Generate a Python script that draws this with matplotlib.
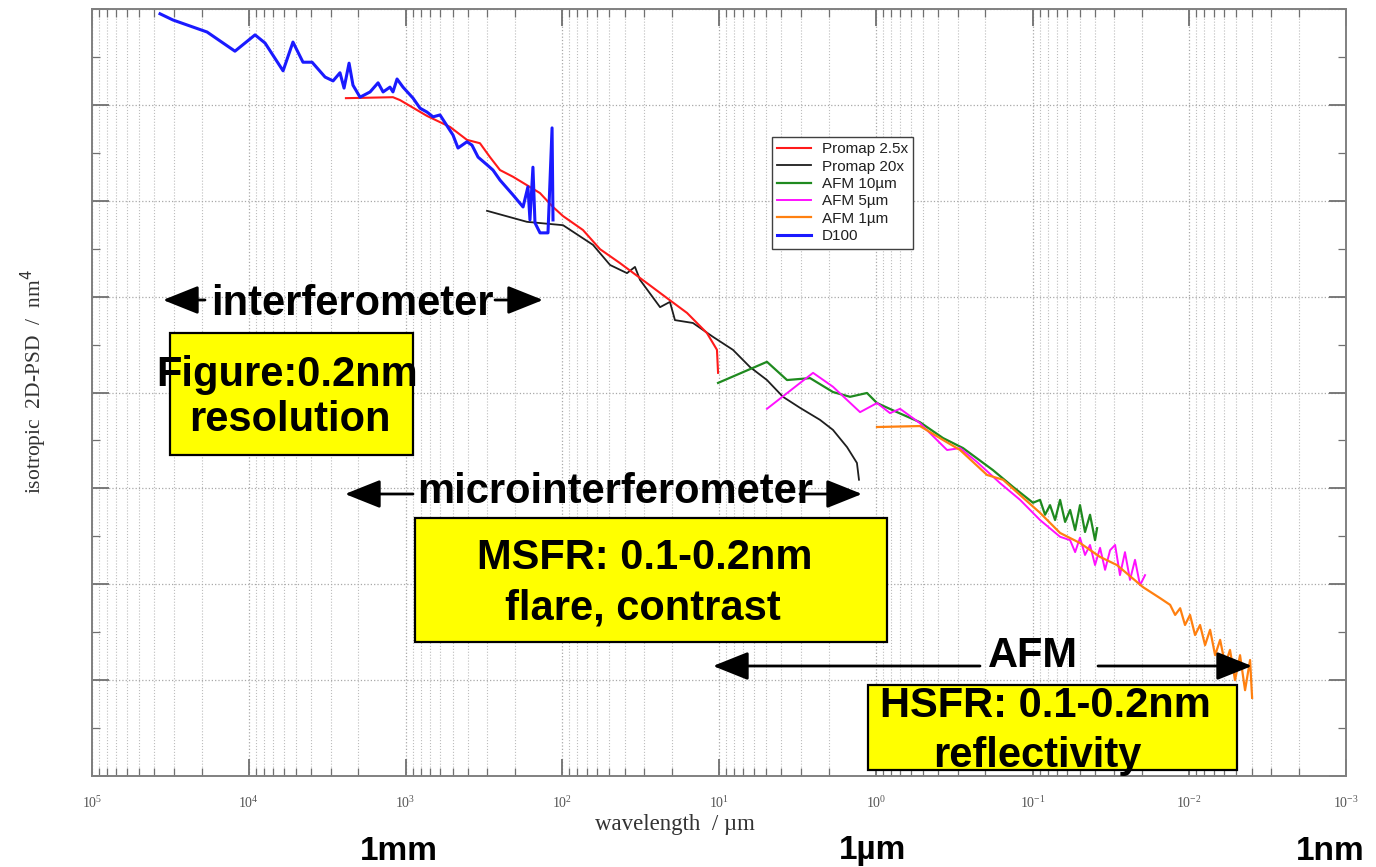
import numpy as np
import matplotlib
matplotlib.use('Agg')
import matplotlib.pyplot as plt
from matplotlib.patches import Rectangle, FancyArrowPatch
from matplotlib.ticker import FixedLocator, NullFormatter, LogFormatterSciNotation

plt.rcParams['axes.unicode_minus'] = False

# values, as log10(wavelength / um) and log10(PSD / nm^4)
promap25_lam = [3.380, 3.080, 3.035, 2.863, 2.716, 2.608, 2.525, 2.461, 2.397, 2.314,
                2.142, 2.059, 1.995, 1.868, 1.759, 1.632, 1.459, 1.332, 1.204, 1.077,
                1.013, 1.006]
promap25_psd = [10.14, 10.16, 10.10, 9.77, 9.54, 9.27, 9.20, 8.91, 8.64, 8.50,
                8.16, 7.87, 7.68, 7.39, 6.99, 6.70, 6.28, 5.97, 5.66, 5.24,
                4.89, 4.41]

promap20_lam = [2.480, 2.225, 1.995, 1.804, 1.695, 1.587, 1.536, 1.504, 1.376, 1.313,
                1.281, 1.166, 1.038, 0.911, 0.802, 0.694, 0.592, 0.483, 0.356, 0.273,
                0.183, 0.120, 0.107]
promap20_psd = [7.79, 7.56, 7.49, 7.08, 6.66, 6.49, 6.62, 6.35, 5.78, 5.89,
                5.51, 5.45, 5.16, 4.89, 4.53, 4.26, 3.91, 3.68, 3.43, 3.22,
                2.86, 2.53, 2.18]

afm10_lam = [1.006, 0.694, 0.566, 0.419, 0.273, 0.164, 0.056, -0.008, -0.136, -0.282,
             -0.429, -0.557, -0.748, -0.876, -1.003, -1.048, -1.080, -1.112, -1.144, -1.176,
             -1.208, -1.240, -1.272, -1.303, -1.335, -1.367, -1.399, -1.412]
afm10_psd = [4.20, 4.64, 4.26, 4.30, 4.01, 3.91, 3.99, 3.78, 3.59, 3.38,
             3.05, 2.84, 2.38, 2.03, 1.70, 1.76, 1.45, 1.65, 1.34, 1.76,
             1.30, 1.55, 1.13, 1.65, 1.09, 1.45, 0.92, 1.17]

afm5_lam = [0.694, 0.400, 0.273, 0.100, -0.008, -0.091, -0.155, -0.282, -0.455, -0.538,
            -0.646, -0.793, -0.921, -1.048, -1.176, -1.240, -1.272, -1.303, -1.335, -1.367,
            -1.399, -1.431, -1.463, -1.495, -1.527, -1.558, -1.590, -1.622, -1.654, -1.686,
            -1.718]
afm5_psd = [3.66, 4.41, 4.12, 3.59, 3.78, 3.57, 3.66, 3.36, 2.80, 2.84,
            2.55, 2.11, 1.76, 1.34, 0.99, 0.92, 0.67, 0.97, 0.61, 0.82,
            0.40, 0.76, 0.30, 0.71, 0.82, 0.19, 0.67, 0.09, 0.51, -0.02,
            0.19]

afm1_lam = [-0.008, -0.282, -0.429, -0.538, -0.710, -0.812, -0.921, -1.048, -1.176, -1.303,
            -1.431, -1.539, -1.705, -1.814, -1.878, -1.910, -1.942, -1.973, -2.005, -2.037,
            -2.069, -2.101, -2.133, -2.165, -2.197, -2.229, -2.260, -2.292, -2.324, -2.356,
            -2.388, -2.401]
afm1_psd = [3.28, 3.30, 3.01, 2.80, 2.28, 2.18, 1.86, 1.49, 1.07, 0.86,
            0.57, 0.40, -0.06, -0.29, -0.43, -0.64, -0.50, -0.85, -0.64, -1.06,
            -0.85, -1.27, -0.95, -1.48, -1.16, -1.68, -1.37, -2.00, -1.48, -2.21,
            -1.58, -2.37]

d100_lam = [4.566, 4.483, 4.266, 4.088, 3.960, 3.896, 3.781, 3.718, 3.654, 3.596,
            3.513, 3.462, 3.418, 3.392, 3.360, 3.335, 3.290, 3.226, 3.175, 3.143,
            3.099, 3.080, 3.054, 3.016, 2.952, 2.907, 2.863, 2.824, 2.780, 2.697,
            2.665, 2.608, 2.576, 2.537, 2.480, 2.442, 2.397, 2.314, 2.250, 2.219,
            2.206, 2.187, 2.174, 2.142, 2.091, 2.065, 2.059]
d100_psd = [11.90, 11.77, 11.52, 11.12, 11.46, 11.29, 10.71, 11.31, 10.89, 10.89,
            10.58, 10.50, 10.67, 10.35, 10.87, 10.41, 10.16, 10.27, 10.46, 10.27,
            10.37, 10.27, 10.54, 10.37, 10.14, 9.93, 9.85, 9.75, 9.79, 9.37,
            9.10, 9.23, 9.16, 8.91, 8.75, 8.64, 8.43, 8.12, 7.87, 8.29,
            7.60, 8.70, 7.54, 7.33, 7.33, 9.52, 7.60]

series = [
    ('Promap 20x', promap20_lam, promap20_psd, '#1e1e1e', 1.3),
    ('Promap 2.5x', promap25_lam, promap25_psd, '#ff1a1a', 1.5),
    ('AFM 10\u00b5m', afm10_lam, afm10_psd, '#1f8a1f', 1.6),
    ('AFM 5\u00b5m', afm5_lam, afm5_psd, '#ff10ff', 1.4),
    ('AFM 1\u00b5m', afm1_lam, afm1_psd, '#ff8010', 1.6),
    ('D100', d100_lam, d100_psd, '#1a1aff', 2.2),
]
legend_order = ['Promap 2.5x', 'Promap 20x', 'AFM 10\u00b5m', 'AFM 5\u00b5m', 'AFM 1\u00b5m', 'D100']

W, H = 1376, 867


def fxy(x, y):
    # pixel position from the top-left corner -> figure fraction
    return (x / W, 1 - y / H)


fig = plt.figure(figsize=(W / 100, H / 100), dpi=100)
ax = fig.add_axes([92 / W, 1 - 776 / H, 1254 / W, 767 / H])

lines = {}
for name, lam, psd, color, lw in series:
    ln, = ax.plot(10 ** np.array(lam), 10 ** np.array(psd), color=color, lw=lw, label=name)
    lines[name] = ln

ax.set_xscale('log')
ax.set_yscale('log')
ax.set_xlim(1e5, 1e-3)
ax.set_ylim(1e-4, 1e12)

decades = range(-3, 6)
ax.xaxis.set_major_locator(FixedLocator([10.0 ** k for k in decades]))
ax.xaxis.set_minor_locator(FixedLocator([s * 10.0 ** k for k in range(-3, 5) for s in range(2, 10)]))
ax.xaxis.set_major_formatter(LogFormatterSciNotation())
ax.xaxis.set_minor_formatter(NullFormatter())
ax.yaxis.set_major_locator(FixedLocator([10.0 ** k for k in range(-4, 13, 2)]))
ax.yaxis.set_minor_locator(FixedLocator([10.0 ** k for k in range(-3, 12, 2)]))
ax.yaxis.set_major_formatter(NullFormatter())
ax.yaxis.set_minor_formatter(NullFormatter())

ax.tick_params(which='both', direction='in', top=True, right=True, colors='#707070')
ax.tick_params(which='major', length=12, width=1.3)
ax.tick_params(which='minor', length=6, width=0.9)
ax.tick_params(axis='x', which='major', pad=14, labelsize=10, labelcolor='#555555',
               labelfontfamily='Liberation Serif')
for sp in ax.spines.values():
    sp.set_color('#808080')
    sp.set_linewidth(1.4)

ax.grid(True, which='major', axis='both', ls=':', color='#a8a8a8', lw=0.9)
ax.grid(True, which='minor', axis='x', ls=':', color='#bdbdbd', lw=0.8)

ax.set_xlabel('wavelength  / \u00b5m', family='Liberation Serif', fontsize=16.5, color='#333333')
ax.xaxis.set_label_coords(0.465, -0.049)
ax.set_ylabel('isotropic  2D-PSD  /  nm$^4$', family='Liberation Serif', fontsize=15.5,
              color='#333333')
ax.yaxis.set_label_coords(-0.034, 0.514)

leg = ax.legend([lines[n] for n in legend_order], legend_order,
                loc='upper left', bbox_to_anchor=fxy(772, 137), bbox_transform=fig.transFigure,
                fontsize=11, frameon=True, fancybox=False, edgecolor='#404040',
                framealpha=1, handlelength=2.2, handletextpad=0.7, labelspacing=0.22,
                borderpad=0.35, borderaxespad=0)
leg.get_frame().set_linewidth(1.0)
for t in leg.get_texts():
    t.set_family('Liberation Sans')
    t.set_color('#202020')


def label(x, y, s, size=30):
    fig.text(*fxy(x, y), s, ha='center', va='center', fontsize=size,
             fontweight='bold', family='Liberation Sans', color='black', zorder=12)


def arrow(x0, x1, y):
    fig.add_artist(FancyArrowPatch(fxy(x0, y), fxy(x1, y), transform=fig.transFigure,
                                   arrowstyle='-|>,head_length=1.0,head_width=0.4',
                                   mutation_scale=22, lw=2, color='black',
                                   shrinkA=0, shrinkB=0, zorder=11))


def box(x0, y0, x1, y1):
    fig.add_artist(Rectangle(fxy(x0, y1), (x1 - x0) / W, (y1 - y0) / H,
                             transform=fig.transFigure, fc='#ffff00', ec='black',
                             lw=1.6, zorder=10))


# interferometer
arrow(205, 163, 300)
arrow(495, 543, 300)
label(352, 304, 'interferometer')
box(170, 333, 413, 455)
label(287, 375, 'Figure:0.2nm')
label(290, 420, 'resolution')

# microinterferometer
arrow(413, 345, 494)
arrow(800, 862, 494)
label(615, 492, 'microinterferometer')
box(415, 518, 887, 642)
label(645, 558, 'MSFR: 0.1-0.2nm')
label(643, 608, 'flare, contrast')

# AFM
arrow(980, 713, 666)
arrow(1098, 1252, 666)
label(1033, 656, 'AFM')
box(868, 685, 1237, 770)
label(1045, 706, 'HSFR: 0.1-0.2nm')
label(1037, 756, 'reflectivity')

label(399, 851, '1mm', size=24)
label(873, 851, '1\u00b5m', size=24)
label(1330, 851, '1nm', size=24)

fig.savefig('out.png', dpi=100)
